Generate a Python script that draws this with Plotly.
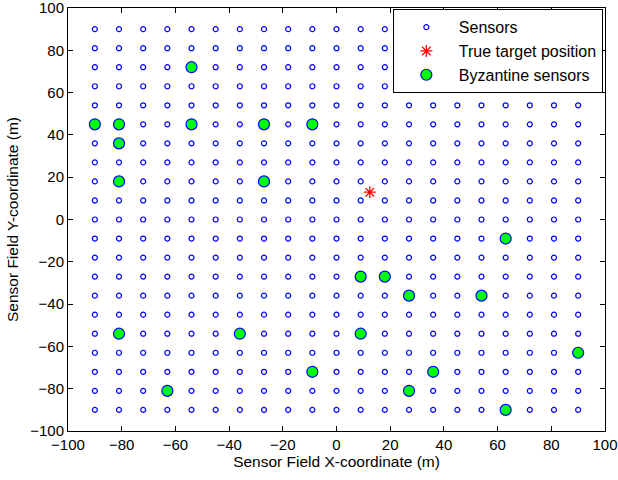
import numpy as np
import plotly.graph_objects as go

grid_vals = [-90, -81, -72, -63, -54, -45, -36, -27, -18, -9, 0, 9, 18, 27, 36, 45, 54, 63, 72, 81, 90]
sensor_x = [x for y in grid_vals for x in grid_vals]
sensor_y = [y for y in grid_vals for x in grid_vals]

target_x = [12.4]
target_y = [12.9]

byz_x = [-54, -90, -81, -54, -27, -9, -81, -81, -27, 63, 9, 18, 27, 54, -81, -36, 9, 90, -9, 36, -63, 27, 63]
byz_y = [72, 45, 45, 45, 45, 45, 36, 18, 18, -9, -27, -27, -36, -36, -54, -54, -54, -63, -72, -72, -81, -81, -90]

tick_vals = list(range(-100, 101, 20))

FONT = "Liberation Sans, Arial"

fig = go.Figure()
fig.add_trace(go.Scatter(x=sensor_x, y=sensor_y, mode="markers", name="Sensors",
                         marker=dict(symbol="circle-open", size=5, color="#0000ff", line=dict(width=1.2))))
fig.add_trace(go.Scatter(x=target_x, y=target_y, mode="markers", name="True target position",
                         marker=dict(symbol="asterisk-open", size=10, color="#ff0000", line=dict(width=1.2, color="#ff0000"))))
fig.add_trace(go.Scatter(x=byz_x, y=byz_y, mode="markers", name="Byzantine sensors",
                         marker=dict(symbol="circle", size=11, color="#00ff00", line=dict(width=1.2, color="#0000ff"))))

axis_common = dict(range=[-100, 100], tickvals=tick_vals, ticks="inside", ticklen=5, tickcolor="black",
                   showline=True, linecolor="black", linewidth=1, mirror="allticks", showgrid=False,
                   zeroline=False, ticklabeloverflow="allow",
                   tickfont=dict(family=FONT, size=15, color="black"))

fig.update_layout(
    width=618, height=480,
    margin=dict(l=68, r=13, t=8, b=49, autoexpand=False),
    paper_bgcolor="white", plot_bgcolor="white",
    xaxis=dict(title=dict(text="Sensor Field X-coordinate (m)", font=dict(family=FONT, size=15.5, color="black"), standoff=3), **axis_common),
    yaxis=dict(title=dict(text="Sensor Field Y-coordinate (m)", font=dict(family=FONT, size=15.5, color="black"), standoff=7), **axis_common),
    legend=dict(x=0.996, y=0.997, xanchor="right", yanchor="top", bgcolor="white", bordercolor="black", borderwidth=1,
                font=dict(family=FONT, size=16, color="black"), tracegroupgap=0, itemwidth=55),
    showlegend=True,
)

fig.write_html("out.html")
